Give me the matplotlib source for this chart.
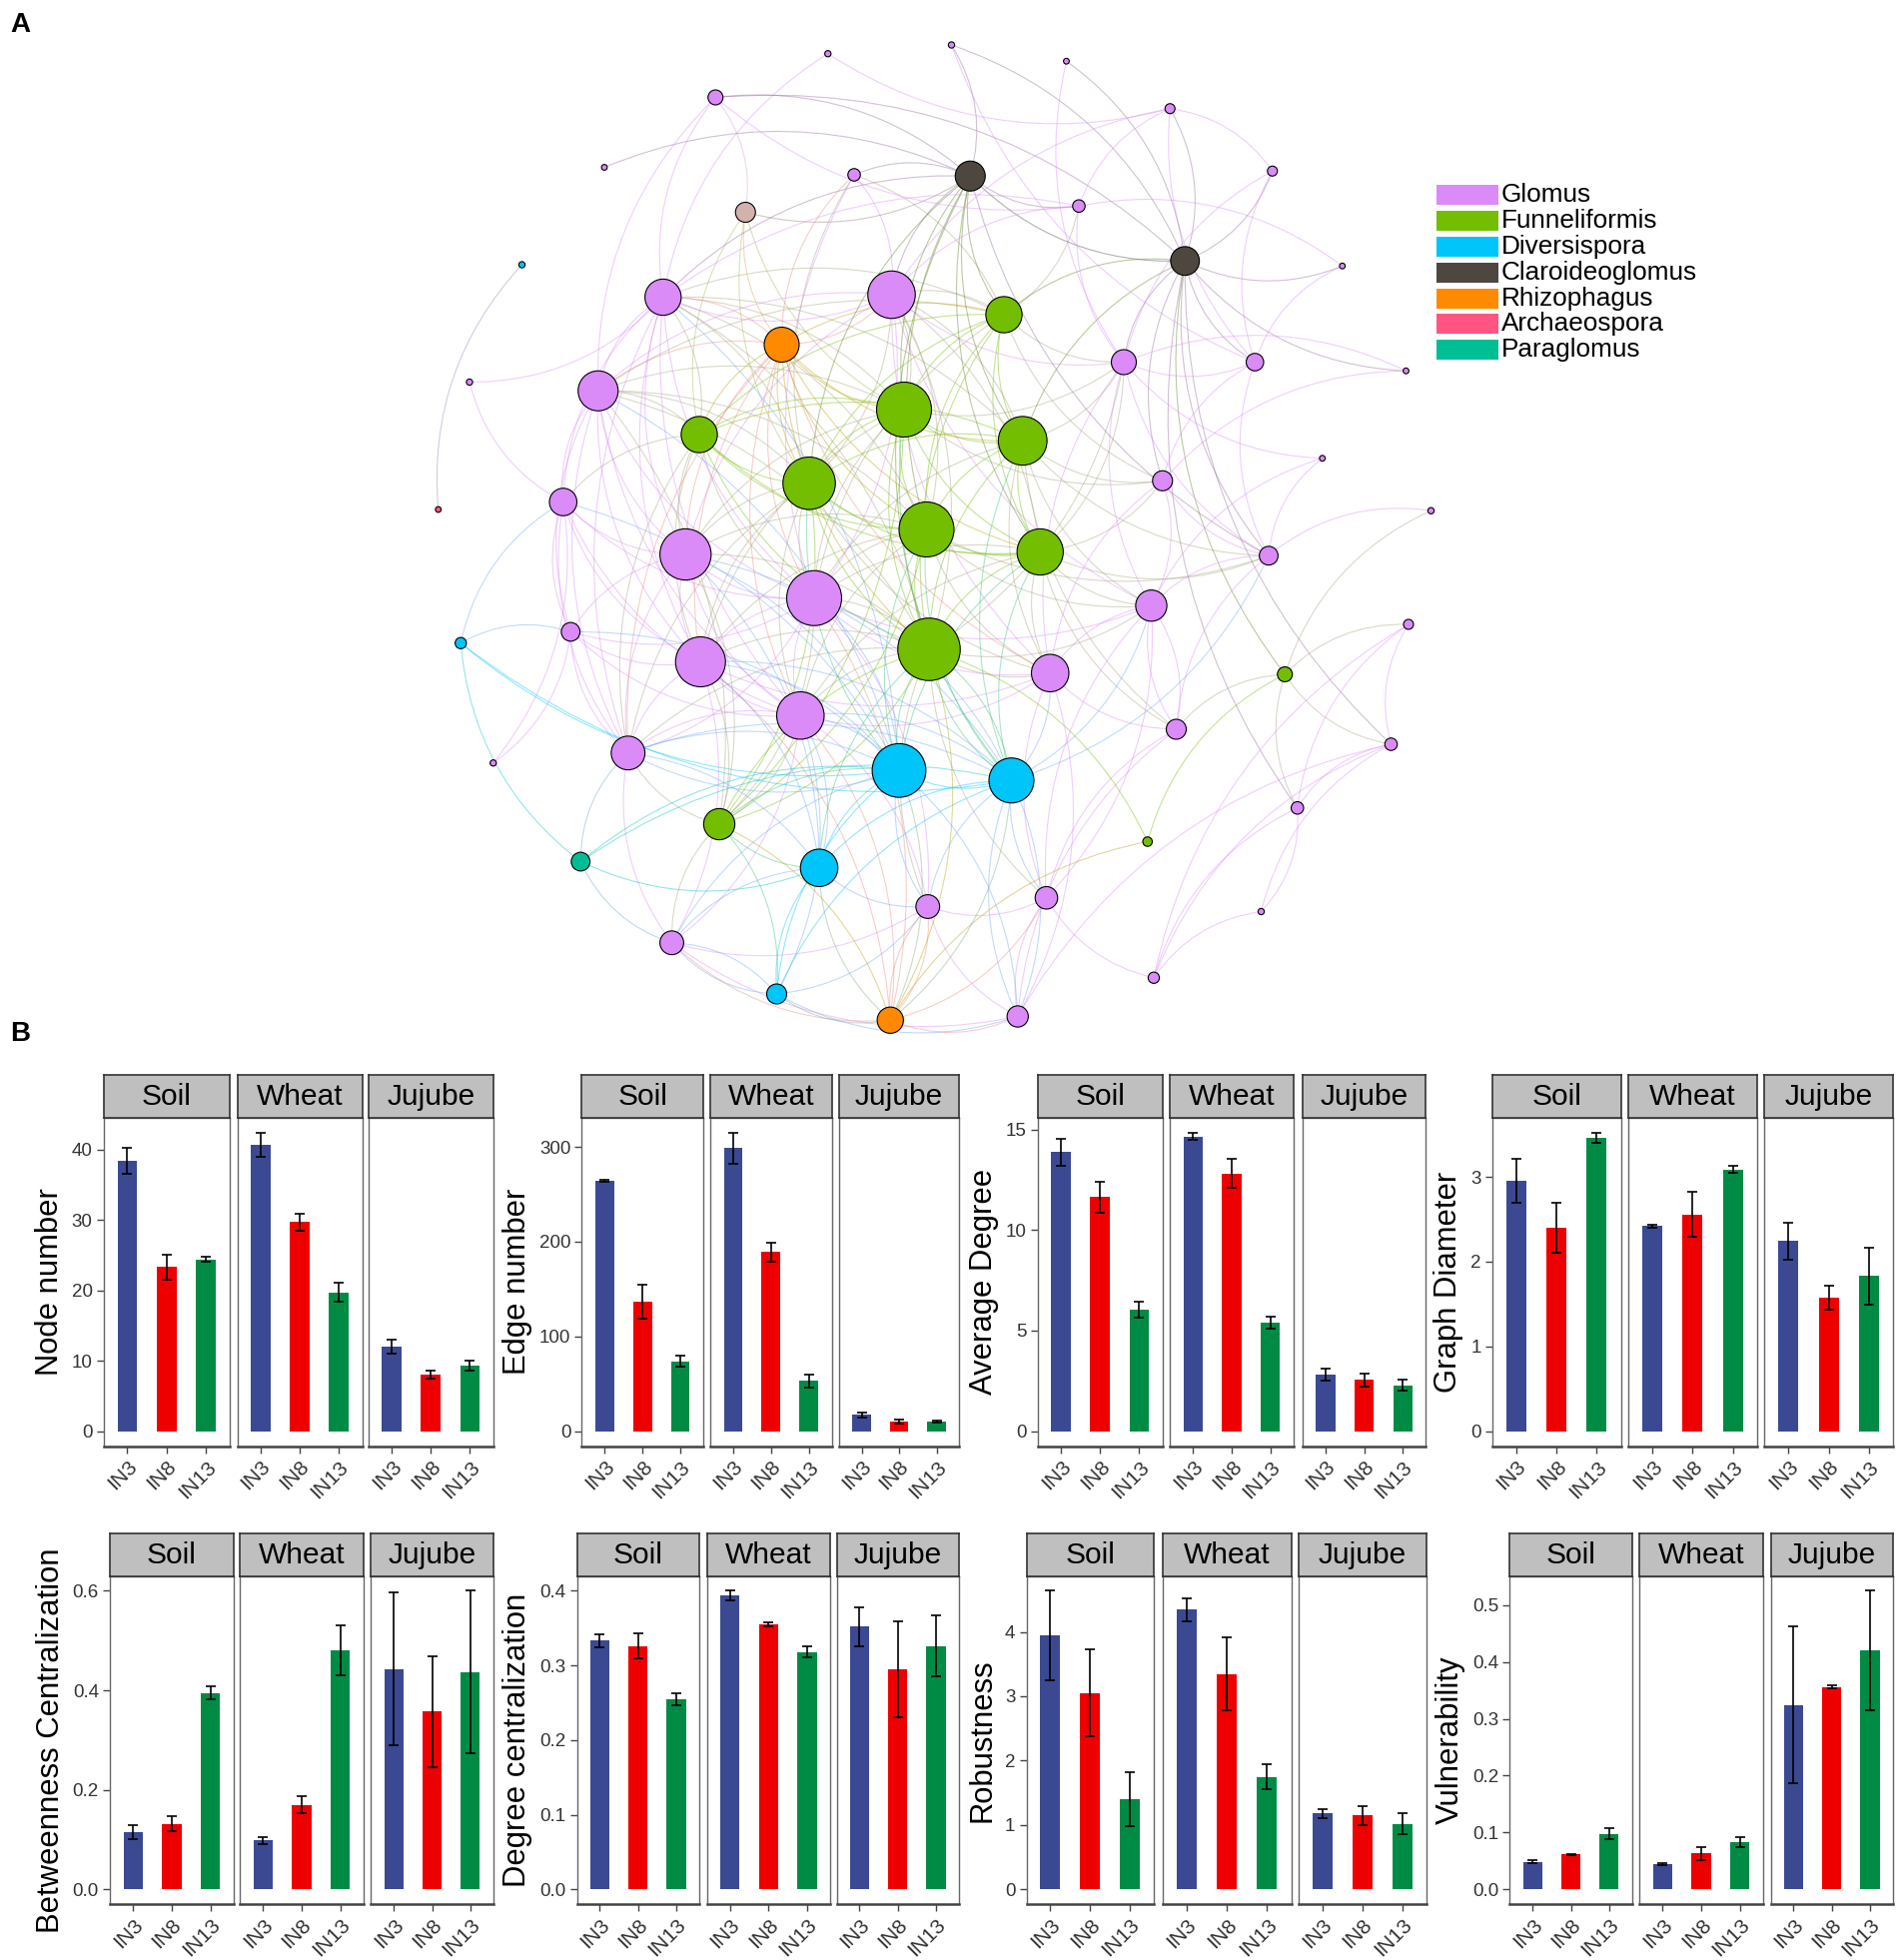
import matplotlib
matplotlib.use('Agg')
import matplotlib.pyplot as plt
from matplotlib.patches import Circle, FancyArrowPatch, Rectangle
from matplotlib.ticker import MultipleLocator, FormatStrFormatter
from matplotlib.colors import to_rgb
import numpy as np

plt.rcParams['font.family'] = ['Liberation Sans', 'DejaVu Sans']

# ---------------- panel A: co-occurrence network ----------------
genus_names = ['Glomus', 'Funneliformis', 'Diversispora', 'Claroideoglomus',
               'Rhizophagus', 'Archaeospora', 'Paraglomus']
genus_colors = ['#DA8BF8', '#73BE00', '#00C5FA', '#4D4740',
                '#FF8A00', '#FF5580', '#00BE94']
other_color = '#D2B2AA'   # unassigned node

# node layout (picture units), radius, genus index (-1 = unassigned)
node_x = [663, 762, 854, 573, 937, 484, 684, 777, 864, 1019,
          597, 418, 949, 1075, 531, 714, 804, 626, 900, 1005,
          1126, 376, 479, 724, 819, 560, 1059, 648, 451, 351,
          931, 1146, 742, 833, 549, 1016, 652, 922, 457, 369,
          1128, 744, 561, 841, 1029, 641, 942, 1114, 395, 503,
          720, 810, 1039, 576, 465, 919, 656, 743, 838, 1010,
          538, 924, 622, 713, 815]
node_y = [43, 36, 49, 78, 87, 134, 140, 141, 165, 137,
          170, 212, 209, 213, 238, 236, 252, 276, 290, 290,
          297, 306, 313, 328, 353, 348, 367, 387, 402, 408,
          385, 409, 424, 442, 444, 445, 479, 485, 506, 515,
          500, 520, 530, 539, 540, 573, 584, 596, 611, 603,
          617, 625, 647, 660, 690, 674, 695, 726, 719, 730,
          755, 783, 796, 817, 814]
node_r = [2.5, 2.5, 2.3, 6, 4, 2.3, 5, 12, 5, 4,
          8, 2.5, 11.5, 2.3, 14.5, 19, 14.5, 14, 10, 7,
          2.3, 2.5, 16, 22, 19.5, 14.5, 2.3, 21, 11, 2.3,
          8, 2.5, 22, 18.5, 20.5, 7.5, 22, 12.5, 7.5, 4.5,
          4, 25, 20, 15, 6, 19, 8, 5, 2.5, 13.5,
          21.5, 18, 5, 12.5, 7.5, 3.8, 15, 9.5, 9, 2.5,
          9.5, 4.5, 8, 10.5, 8.5]
node_genus = [0, 0, 0, 0, 0, 0, 0, 3, 0, 0,
              -1, 2, 3, 0, 0, 0, 1, 4, 0, 0,
              0, 0, 0, 1, 1, 1, 0, 1, 0, 5,
              0, 0, 1, 1, 0, 0, 0, 0, 0, 2,
              0, 1, 0, 0, 1, 0, 0, 0, 0, 0,
              2, 2, 0, 1, 6, 1, 2, 0, 0, 0,
              0, 0, 2, 4, 0]

edges = [
    # Funneliformis core
    (16, 23), (16, 24), (16, 25), (16, 27), (16, 32), (16, 33), (16, 41), (23, 24),
    (23, 25), (23, 27), (23, 32), (23, 33), (23, 41), (24, 25), (24, 27), (24, 32),
    (24, 33), (24, 41), (25, 27), (25, 32), (25, 33), (25, 41), (27, 32), (27, 33),
    (27, 41), (32, 33), (32, 41), (33, 41), (53, 27), (53, 32), (53, 41), (53, 23),
    # Funneliformis - Glomus
    (23, 14), (23, 22), (23, 34), (23, 36), (23, 42), (24, 15), (24, 37), (24, 43),
    (24, 30), (24, 18), (27, 14), (27, 22), (27, 34), (27, 42), (27, 45), (32, 15),
    (32, 36), (32, 45), (32, 43), (32, 37), (33, 18), (33, 30), (33, 37), (33, 43),
    (33, 46), (41, 36), (41, 42), (41, 45), (41, 43), (41, 49), (25, 14), (25, 22),
    (25, 28), (25, 34), (16, 15), (16, 18), (16, 6), (16, 8), (41, 37), (41, 57),
    (41, 58), (32, 35), (24, 35), (33, 35), (23, 30),
    (16, 14), (16, 22), (16, 36), (16, 17), (23, 15), (23, 18), (24, 14), (24, 36),
    (27, 15), (27, 36), (27, 43), (27, 49), (32, 14), (32, 22), (32, 42), (32, 34),
    (33, 36), (33, 15), (33, 45), (41, 34), (41, 22), (41, 14), (41, 15), (41, 18),
    (53, 34), (53, 22), (53, 36), (16, 30), (24, 46), (25, 42), (25, 49), (25, 36),
    # Glomus core
    (14, 22), (14, 34), (14, 36), (14, 15), (22, 28), (22, 34), (22, 42), (22, 49),
    (34, 36), (34, 42), (34, 45), (36, 42), (36, 45), (36, 15), (42, 45), (42, 49),
    (45, 49), (15, 6), (28, 34), (28, 42), (37, 43), (37, 30), (43, 58), (43, 46),
    (15, 18), (34, 49), (22, 38), (14, 28),
    (14, 42), (14, 45), (14, 49), (22, 36), (22, 45), (28, 36), (28, 45), (28, 49),
    (34, 38), (36, 43), (36, 37), (42, 43), (45, 43), (15, 37), (15, 43), (15, 34),
    (15, 22), (30, 43), (18, 37), (18, 43), (46, 37), (57, 45), (57, 36), (58, 37),
    (60, 45), (60, 42), (38, 45), (38, 36), (49, 36),
    # Rhizophagus / unassigned
    (17, 14), (17, 23), (17, 27), (17, 32), (17, 33), (17, 41), (17, 36), (17, 24),
    (17, 22), (17, 15), (17, 25), (17, 34), (17, 42), (17, 45), (17, 43), (17, 49),
    (10, 7), (10, 17), (10, 27), (10, 25), (10, 23), (10, 3),
    # Claroideoglomus
    (7, 3), (7, 5), (7, 6), (7, 15), (7, 16), (7, 23), (7, 24), (7, 32), (7, 33),
    (7, 41), (7, 12), (7, 8), (7, 14), (7, 1), (7, 35), (7, 27),
    (12, 3), (12, 4), (12, 9), (12, 13), (12, 20), (12, 19), (12, 18), (12, 24),
    (12, 35), (12, 44), (12, 47), (12, 52), (12, 16), (12, 2), (12, 30), (12, 1),
    # periphery
    (0, 14), (0, 4), (1, 19), (2, 18), (3, 8), (4, 8), (4, 19), (4, 15),
    (6, 17), (6, 36), (6, 27), (8, 15), (8, 18), (8, 14), (9, 4), (9, 18),
    (9, 19), (11, 29), (13, 19), (13, 8), (18, 19), (18, 35), (18, 26), (19, 35),
    (19, 30), (20, 18), (20, 30), (21, 28), (21, 14), (26, 35), (26, 37), (30, 35),
    (31, 35), (31, 44), (35, 37), (35, 46), (37, 46), (37, 58), (38, 39), (38, 49),
    (38, 42), (39, 50), (39, 51), (39, 54), (40, 47), (40, 52), (40, 61), (40, 44),
    (44, 47), (44, 52), (44, 55), (44, 46), (46, 58), (46, 64), (47, 59), (47, 61),
    (47, 64), (47, 52), (48, 28), (48, 38), (49, 54), (49, 60), (49, 53), (49, 50),
    (3, 14), (3, 22), (28, 38), (28, 39), (52, 61),
    # Diversispora and lower part
    (50, 51), (50, 56), (50, 45), (50, 42), (50, 36), (50, 54), (50, 62), (50, 57),
    (50, 34), (51, 56), (51, 43), (51, 45), (51, 62), (51, 54), (51, 37), (51, 41),
    (51, 35), (53, 56), (53, 60), (53, 45), (53, 42), (54, 56), (54, 60), (55, 63),
    (55, 41), (56, 62), (56, 63), (56, 45), (56, 57), (57, 63), (57, 64), (57, 58),
    (58, 64), (58, 61), (59, 61), (59, 52), (60, 62), (60, 63), (60, 64), (60, 57),
    (62, 63), (62, 64), (63, 64), (63, 42),
    (50, 14), (50, 22), (50, 28), (50, 38), (50, 49), (50, 53), (50, 60), (51, 42),
    (51, 36), (51, 34), (51, 49), (51, 57), (51, 58), (51, 64), (56, 49), (56, 42),
    (56, 34), (56, 60), (62, 45), (62, 57), (62, 60), (62, 53), (63, 53), (63, 50),
    (63, 51), (63, 57), (63, 58), (63, 36), (64, 51), (64, 50), (64, 43), (41, 50),
    (41, 51), (41, 56), (41, 53), (32, 50), (32, 51), (27, 50), (23, 51), (24, 51),
    (33, 51), (33, 50), (63, 41), (63, 45),
]

# ---------------- panel B: network properties ----------------
groups = ['IN3', 'IN8', 'IN13']
hosts = ['Soil', 'Wheat', 'Jujube']
bar_colors = ['#3B4992', '#EE0000', '#008B45']

node_mean = [[38.4, 23.3, 24.4], [40.7, 29.7, 19.7], [12.0, 8.0, 9.3]]
node_se = [[1.85, 1.75, 0.35], [1.7, 1.2, 1.35], [1.05, 0.6, 0.7]]
edge_mean = [[264, 136.7, 73.9], [298.9, 189, 53], [17, 10, 10]]
edge_se = [[1, 17.8, 6], [16.4, 10, 6.6], [2.6, 1.8, 1.2]]
deg_mean = [[13.88, 11.64, 6.03], [14.67, 12.82, 5.39], [2.80, 2.54, 2.29]]
deg_se = [[0.69, 0.78, 0.4], [0.19, 0.71, 0.31], [0.3, 0.33, 0.27]]
diam_mean = [[2.95, 2.40, 3.465], [2.42, 2.56, 3.09], [2.245, 1.576, 1.83]]
diam_se = [[0.26, 0.29, 0.06], [0.02, 0.27, 0.045], [0.22, 0.14, 0.335]]
betw_mean = [[0.116, 0.132, 0.395], [0.0985, 0.170, 0.481], [0.443, 0.357, 0.437]]
betw_se = [[0.014, 0.015, 0.013], [0.007, 0.017, 0.05], [0.153, 0.112, 0.163]]
dcen_mean = [[0.3335, 0.326, 0.2545], [0.3933, 0.3548, 0.318], [0.352, 0.2945, 0.326]]
dcen_se = [[0.0087, 0.017, 0.0085], [0.0066, 0.0027, 0.007], [0.026, 0.064, 0.041]]
rob_mean = [[3.943, 3.053, 1.405], [4.345, 3.346, 1.75], [1.179, 1.148, 1.019]]
rob_se = [[0.695, 0.674, 0.417], [0.18, 0.564, 0.196], [0.072, 0.147, 0.167]]
vul_mean = [[0.0484, 0.0612, 0.0979], [0.0443, 0.063, 0.0833], [0.324, 0.356, 0.4202]]
vul_se = [[0.003, 0.001, 0.0096], [0.0015, 0.012, 0.009], [0.138, 0.003, 0.105]]

# layout in picture units (figure is W x H of these units)
W, H = 1523.2, 1569.6
fig = plt.figure(figsize=(19.04, 19.62), dpi=100)

# ---- network ----
net_h = 850
ax = fig.add_axes([0, 1 - net_h / H, 1, net_h / H])
ax.set_xlim(0, W)
ax.set_ylim(net_h, 0)
ax.axis('off')


def node_color(i):
    g = node_genus[i]
    return other_color if g < 0 else genus_colors[g]


for a, b in edges:
    ca = np.array(to_rgb(node_color(a)))
    cb = np.array(to_rgb(node_color(b)))
    col = (ca + cb) / 2
    p = FancyArrowPatch((node_x[a], node_y[a]), (node_x[b], node_y[b]),
                        connectionstyle='arc3,rad=0.22', arrowstyle='-',
                        color=col, lw=0.8, alpha=0.42, shrinkA=0, shrinkB=0,
                        zorder=1)
    ax.add_patch(p)

for i in np.argsort(node_r):
    ax.add_patch(Circle((node_x[i], node_y[i]), node_r[i], facecolor=node_color(i),
                        edgecolor='black', lw=0.8, zorder=3))

# legend
for k, (name, col) in enumerate(zip(genus_names, genus_colors)):
    yc = 156 + k * 20.7
    ax.add_patch(Rectangle((1150, yc - 8), 50, 16, facecolor=col, edgecolor='none'))
    ax.text(1202, yc, name, fontsize=18.8, va='center', ha='left')

fig.text(8 / W, 1 - 10 / H, 'A', fontsize=20, fontweight='bold', va='top')
fig.text(8 / W, 1 - 818 / H, 'B', fontsize=20, fontweight='bold', va='top')

# ---- bar panels ----
rows = [(861, 895, 1158), (1228, 1262, 1525)]


def draw_panel(facets, row, means, ses, ylabel, step, fmt):
    st, sb, pb = rows[row]
    top = max(m + s for mm, ss in zip(means, ses) for m, s in zip(mm, ss))
    lo, hi = -0.05 * top, 1.05 * top
    for k, (x0, x1) in enumerate(facets):
        bx = fig.add_axes([x0 / W, 1 - pb / H, (x1 - x0) / W, (pb - sb) / H])
        xs = np.arange(1, 4)
        bx.bar(xs, means[k], width=0.5, color=bar_colors, zorder=2)
        bx.errorbar(xs, means[k], yerr=ses[k], fmt='none', ecolor='black',
                    elinewidth=1.2, capsize=3.5, capthick=1.2, zorder=3)
        bx.set_xlim(0.4, 3.6)
        bx.set_ylim(lo, hi)
        bx.set_xticks(xs)
        bx.set_xticklabels(groups, rotation=45, ha='right', va='top',
                           rotation_mode='anchor', fontsize=15, color='#333333')
        bx.yaxis.set_major_locator(MultipleLocator(step))
        bx.yaxis.set_major_formatter(FormatStrFormatter(fmt))
        bx.tick_params(axis='both', length=5, width=1.0, color='#444444',
                       labelcolor='#333333', pad=3)
        bx.tick_params(axis='y', labelsize=13.5)
        for s in bx.spines.values():
            s.set_color('#666666')
            s.set_linewidth(1.0)
        bx.spines['bottom'].set_color('#444444')
        bx.spines['bottom'].set_linewidth(1.8)
        if k == 0:
            bx.set_ylabel(ylabel, fontsize=22.3, labelpad=5)
        else:
            bx.tick_params(axis='y', left=False, labelleft=False)
        sx = fig.add_axes([x0 / W, 1 - sb / H, (x1 - x0) / W, (sb - st) / H])
        sx.set_facecolor('#BFBFBF')
        sx.set_xticks([])
        sx.set_yticks([])
        for s in sx.spines.values():
            s.set_color('#333333')
            s.set_linewidth(1.2)
        sx.text(0.5, 0.48, hosts[k], transform=sx.transAxes, ha='center',
                va='center', fontsize=21.5)


draw_panel([(83, 184), (190, 290), (295, 395)], 0, node_mean, node_se,
           'Node number', 10, '%d')
draw_panel([(466, 563), (569, 666), (672, 768)], 0, edge_mean, edge_se,
           'Edge number', 100, '%d')
draw_panel([(831, 931), (937, 1036), (1043, 1142)], 0, deg_mean, deg_se,
           'Average Degree', 5, '%d')
draw_panel([(1195, 1298), (1304, 1407), (1413, 1516)], 0, diam_mean, diam_se,
           'Graph Diameter', 1, '%d')
draw_panel([(88, 187), (192, 291), (297, 395)], 1, betw_mean, betw_se,
           'Betweenness Centralization', 0.2, '%.1f')
draw_panel([(462, 560), (566, 665), (670, 768)], 1, dcen_mean, dcen_se,
           'Degree centralization', 0.1, '%.1f')
draw_panel([(822, 924), (931, 1034), (1040, 1142)], 1, rob_mean, rob_se,
           'Robustness', 1, '%d')
draw_panel([(1209, 1307), (1313, 1412), (1418, 1516)], 1, vul_mean, vul_se,
           'Vulnerability', 0.1, '%.1f')

fig.savefig('out.png', dpi=100)
